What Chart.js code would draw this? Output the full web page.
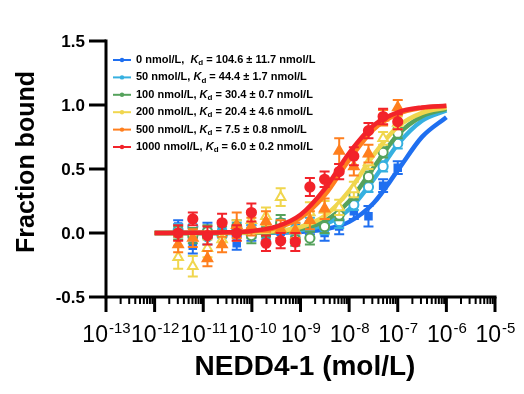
<!DOCTYPE html>
<html>
<head>
<meta charset="utf-8">
<script src="https://cdn.jsdelivr.net/npm/chart.js@4.4.1/dist/chart.umd.min.js"></script>
<style>
  html, body { margin: 0; padding: 0; background: #fff; }
</style>
</head>
<body>
<canvas id="chart" width="524" height="394"></canvas>
<script>
const FONT = '"Liberation Sans", Arial, Helvetica, sans-serif';

// NEDD4-1 concentrations (mol/L), 2-fold dilution series
const conc = [3.05e-12, 6.1e-12, 1.22e-11, 2.44e-11, 4.88e-11, 9.77e-11, 1.95e-10, 3.91e-10,
              7.81e-10, 1.56e-9, 3.13e-9, 6.25e-9, 1.25e-8, 2.5e-8, 5e-8, 1e-7];

// x positions of the fitted curves
const fitX = [1e-12, 3.16e-12, 1e-11, 3.16e-11, 1e-10, 3.16e-10, 1e-9, 3.16e-9, 1e-8, 3.16e-8, 1e-7, 3.16e-7, 1e-6];

const seriesNames = ['0 nmol/L,  ', '50 nmol/L, ', '100 nmol/L, ', '200 nmol/L, ', '500 nmol/L, ', '1000 nmol/L, '];
const kdText = [' = 104.6 \u00b1 11.7 nmol/L', ' = 44.4 \u00b1 1.7 nmol/L', ' = 30.4 \u00b1 0.7 nmol/L',
                ' = 20.4 \u00b1 4.6 nmol/L', ' = 7.5 \u00b1 0.8 nmol/L', ' = 6.0 \u00b1 0.2 nmol/L'];
const colors = ['#1f6ff0', '#36b0e0', '#55a25c', '#f0d64e', '#ff7f1e', '#f2232a'];

// measured fraction bound (mean) and error
const blueY   = [0.05, -0.10, 0.03, 0.03, -0.08, 0.00, -0.02, 0.01, 0.02, 0.04, 0.00, 0.05, 0.17, 0.13, 0.37, 0.51];
const cyanY   = [0.02, 0.05, -0.03, -0.02, 0.03, 0.01, 0.00, 0.06, 0.03, 0.07, 0.04, 0.09, 0.22, 0.36, 0.52, 0.70];
const greenY  = [0.00, -0.02, 0.01, -0.01, 0.05, -0.02, 0.02, 0.08, -0.05, -0.04, 0.05, 0.14, 0.30, 0.44, 0.63, 0.78];
const yellowY = [-0.19, -0.26, -0.12, -0.05, 0.02, 0.10, 0.13, 0.28, 0.02, 0.16, 0.18, 0.20, 0.34, 0.55, 0.74, 0.86];
const orangeY = [-0.09, -0.04, -0.20, -0.09, 0.06, 0.05, 0.09, 0.03, 0.02, 0.10, 0.19, 0.64, 0.52, 0.62, 0.90, 0.98];
const redY    = [0.00, 0.11, -0.02, 0.08, 0.00, 0.16, -0.08, -0.06, -0.07, 0.36, 0.42, 0.48, 0.60, 0.80, 0.91, 0.87];

const blueErr   = [0.05, 0.06, 0.05, 0.06, 0.05, 0.06, 0.05, 0.05, 0.05, 0.05, 0.06, 0.06, 0.06, 0.08, 0.05, 0.05];
const cyanErr   = [0.05, 0.05, 0.06, 0.05, 0.05, 0.05, 0.05, 0.05, 0.05, 0.05, 0.05, 0.05, 0.04, 0.04, 0.04, 0.04];
const greenErr  = [0.05, 0.06, 0.05, 0.06, 0.05, 0.06, 0.05, 0.06, 0.05, 0.05, 0.05, 0.04, 0.04, 0.04, 0.04, 0.04];
const yellowErr = [0.09, 0.08, 0.07, 0.06, 0.08, 0.07, 0.07, 0.07, 0.06, 0.08, 0.07, 0.06, 0.06, 0.05, 0.05, 0.05];
const orangeErr = [0.06, 0.07, 0.06, 0.06, 0.10, 0.07, 0.08, 0.07, 0.06, 0.07, 0.08, 0.10, 0.07, 0.07, 0.06, 0.06];
const redErr    = [0.06, 0.05, 0.07, 0.07, 0.06, 0.07, 0.06, 0.06, 0.07, 0.07, 0.06, 0.06, 0.07, 0.06, 0.06, 0.06];

// fitted one-site binding curves
const blueFit   = [0, 0, 0, 0, 0.001, 0.003, 0.010, 0.029, 0.087, 0.232, 0.489, 0.751, 0.905];
const cyanFit   = [0, 0, 0, 0.001, 0.002, 0.007, 0.022, 0.066, 0.184, 0.416, 0.692, 0.877, 0.957];
const greenFit  = [0, 0, 0, 0.001, 0.003, 0.010, 0.032, 0.094, 0.248, 0.510, 0.767, 0.912, 0.970];
const yellowFit = [0, 0, 0, 0.002, 0.005, 0.015, 0.047, 0.134, 0.329, 0.608, 0.831, 0.939, 0.980];
const orangeFit = [0, 0, 0.001, 0.004, 0.013, 0.040, 0.118, 0.296, 0.571, 0.808, 0.930, 0.977, 0.993];
const redFit    = [0, 0.001, 0.002, 0.005, 0.016, 0.050, 0.143, 0.345, 0.625, 0.840, 0.943, 0.981, 0.994];

const yTicks = [-0.5, 0, 0.5, 1.0, 1.5];
const xExps = [-13, -12, -11, -10, -9, -8, -7, -6, -5];

const means = [blueY, cyanY, greenY, yellowY, orangeY, redY];
const errs = [blueErr, cyanErr, greenErr, yellowErr, orangeErr, redErr];
const fits = [blueFit, cyanFit, greenFit, yellowFit, orangeFit, redFit];
const markers = [
    { style: 'rect', fill: true },
    { style: 'circle', fill: false },
    { style: 'circle', fill: false },
    { style: 'triangle', fill: false },
    { style: 'triangle', fill: true },
    { style: 'circle', fill: true }
];

let datasets = [];
for (let i = 0; i < 6; i++) {
    datasets.push({
        label: seriesNames[i] + 'points',
        data: conc.map((c, j) => ({ x: c, y: means[i][j] })),
        errors: errs[i],
        showLine: false,
        pointStyle: markers[i].style,
        pointRadius: markers[i].style === 'triangle' ? 5.5 : 4.6,
        pointBorderWidth: 2,
        pointBorderColor: colors[i],
        pointBackgroundColor: markers[i].fill ? colors[i] : '#ffffff',
        borderColor: colors[i],
        order: (5 - i) * 2
    });
    datasets.push({
        label: seriesNames[i] + 'fit',
        data: fitX.map((c, j) => ({ x: c, y: fits[i][j] })),
        showLine: true,
        pointRadius: 0,
        borderWidth: 4.5,
        borderColor: colors[i],
        cubicInterpolationMode: 'monotone',
        order: (5 - i) * 2 + 1
    });
}

const errorBars = {
    id: 'errorBars',
    beforeDatasetDraw(chart, args) {
        const ds = chart.data.datasets[args.index];
        if (!ds.errors) return;
        const { ctx } = chart;
        const x = chart.scales.x, y = chart.scales.y;
        ctx.save();
        ctx.strokeStyle = ds.borderColor;
        ctx.lineWidth = 2;
        ds.data.forEach((p, i) => {
            const px = x.getPixelForValue(p.x);
            const top = y.getPixelForValue(p.y + ds.errors[i]);
            const bot = y.getPixelForValue(p.y - ds.errors[i]);
            ctx.beginPath();
            ctx.moveTo(px, top); ctx.lineTo(px, bot);
            ctx.moveTo(px - 5, top); ctx.lineTo(px + 5, top);
            ctx.moveTo(px - 5, bot); ctx.lineTo(px + 5, bot);
            ctx.stroke();
        });
        ctx.restore();
    }
};

const axesAndLegend = {
    id: 'axesAndLegend',
    afterDraw(chart) {
        const { ctx, chartArea } = chart;
        const x = chart.scales.x, y = chart.scales.y;
        ctx.save();
        ctx.strokeStyle = '#000';
        ctx.fillStyle = '#000';
        ctx.lineCap = 'butt';

        // y axis
        ctx.lineWidth = 3;
        ctx.beginPath();
        ctx.moveTo(chartArea.left, y.getPixelForValue(1.5) - 1.5);
        ctx.lineTo(chartArea.left, y.getPixelForValue(-0.5) + 1.5);
        ctx.stroke();
        ctx.font = 'bold 17px ' + FONT;
        ctx.textAlign = 'right';
        ctx.textBaseline = 'middle';
        yTicks.forEach(v => {
            const py = y.getPixelForValue(v);
            ctx.beginPath();
            ctx.moveTo(chartArea.left - 17, py);
            ctx.lineTo(chartArea.left, py);
            ctx.stroke();
            ctx.fillText(v.toFixed(1), chartArea.left - 21, py + 1);
        });

        // x axis
        const axisY = y.getPixelForValue(-0.5);
        ctx.lineWidth = 3;
        ctx.beginPath();
        ctx.moveTo(chartArea.left, axisY);
        ctx.lineTo(x.getPixelForValue(1e-5) + 1.5, axisY);
        ctx.stroke();
        xExps.forEach(e => {
            const px = x.getPixelForValue(Math.pow(10, e));
            ctx.lineWidth = 3;
            ctx.beginPath();
            ctx.moveTo(px, axisY);
            ctx.lineTo(px, axisY + 15);
            ctx.stroke();
            if (e < -5) {
                ctx.lineWidth = 2;
                for (let k = 2; k <= 9; k++) {
                    const pm = x.getPixelForValue(k * Math.pow(10, e));
                    ctx.beginPath();
                    ctx.moveTo(pm, axisY);
                    ctx.lineTo(pm, axisY + 7);
                    ctx.stroke();
                }
            }
            // label 10^e
            ctx.textBaseline = 'alphabetic';
            ctx.textAlign = 'left';
            ctx.font = '23px ' + FONT;
            const base = '10';
            const wb = ctx.measureText(base).width;
            ctx.font = '15px ' + FONT;
            const sup = String(e);
            const ws = ctx.measureText(sup).width;
            const sx = px - (wb + ws) / 2;
            ctx.font = '23px ' + FONT;
            ctx.fillText(base, sx, axisY + 45);
            ctx.font = '15px ' + FONT;
            ctx.fillText(sup, sx + wb + 1, axisY + 36);
        });

        // axis titles
        ctx.font = 'bold 28px ' + FONT;
        ctx.textAlign = 'center';
        ctx.textBaseline = 'middle';
        ctx.fillText('NEDD4-1 (mol/L)', 305, 367);
        ctx.font = 'bold 25px ' + FONT;
        ctx.save();
        ctx.translate(27, 162);
        ctx.rotate(-Math.PI / 2);
        ctx.fillText('Fraction bound', 0, 0);
        ctx.restore();

        // legend
        const rowY = 60, rowGap = 17.4;
        for (let i = 0; i < 6; i++) {
            const ly = rowY + i * rowGap;
            ctx.strokeStyle = colors[i];
            ctx.fillStyle = colors[i];
            ctx.lineWidth = 2;
            ctx.beginPath();
            ctx.moveTo(113, ly);
            ctx.lineTo(131, ly);
            ctx.stroke();
            ctx.beginPath();
            ctx.arc(122, ly, 2.2, 0, Math.PI * 2);
            ctx.fill();

            ctx.fillStyle = '#000';
            ctx.textAlign = 'left';
            ctx.textBaseline = 'middle';
            let tx = 136;
            ctx.font = 'bold 11px ' + FONT;
            ctx.fillText(seriesNames[i], tx, ly);
            tx += ctx.measureText(seriesNames[i]).width;
            ctx.font = 'italic bold 11px ' + FONT;
            ctx.fillText('K', tx, ly);
            tx += ctx.measureText('K').width;
            ctx.font = 'bold 8px ' + FONT;
            ctx.fillText('d', tx, ly + 3);
            tx += ctx.measureText('d').width;
            ctx.font = 'bold 11px ' + FONT;
            ctx.fillText(kdText[i], tx, ly);
        }
        ctx.restore();
    }
};

new Chart(document.getElementById('chart'), {
    type: 'scatter',
    data: { datasets: datasets },
    options: {
        responsive: false,
        animation: false,
        layout: { padding: { left: 106, right: 29, top: 41, bottom: 97 } },
        scales: {
            x: { type: 'logarithmic', min: 1e-13, max: 1e-5, display: false },
            y: { min: -0.5, max: 1.5, display: false }
        },
        plugins: {
            legend: { display: false },
            tooltip: { enabled: false }
        }
    },
    plugins: [errorBars, axesAndLegend]
});
</script>
</body>
</html>
